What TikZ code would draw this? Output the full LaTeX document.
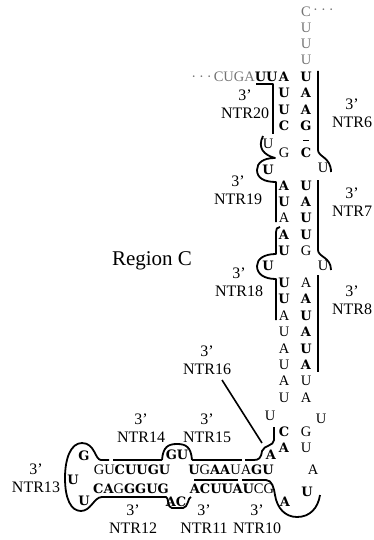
\documentclass[tikz,border=0pt]{standalone}
\usepackage{fontspec}
\setmainfont{Liberation Serif}
\newfontfamily\bntfont{DejaVu Serif}
\newcommand{\B}[1]{{\bntfont\bfseries\fontsize{13}{14}\selectfont #1}}
\begin{document}
\begin{tikzpicture}[x=1pt,y=-1pt,
  nt/.style={inner sep=0pt, font=\fontsize{14.5}{15}\selectfont},
  faint/.style={text=black!55},
  lab/.style={align=center, inner sep=0pt, font=\fontsize{16}{18}\selectfont},
  strand/.style={line width=1.8pt, line join=round},
  pointer/.style={line width=1.6pt}]
\useasboundingbox (0,0) rectangle (374,540);
% single strand at the top
\node[nt,faint] (t0) at (306,12) {C};
\node[nt,faint,anchor=west] (t0d) at (313,12) {·\hspace{3pt}·\hspace{3pt}·};
\node[nt,faint] (t1) at (306,28) {U};
\node[nt,faint] (t2) at (306,44) {U};
\node[nt,faint] (t3) at (306,60) {U};
% stem
\foreach \y/\l/\r [count=\i] in {77/\B{A}/\B{U}, 93/\B{U}/\B{A}, 110/\B{U}/\B{A}, 126/\B{C}/\B{G},
    153/G/\B{C}, 186/\B{A}/\B{U}, 202/\B{U}/\B{A}, 218/A/\B{U}, 235/\B{A}/\B{U}, 251/\B{U}/G,
    283/\B{U}/A, 299/\B{U}/\B{A}, 316/A/\B{U}, 332/U/\B{A}, 349/A/\B{U}, 365/U/\B{A},
    381/A/U, 398/U/A, 432/\B{C}/G, 448/\B{A}/U}
  {\node[nt] (L\i) at (284,\y) {\l}; \node[nt] (R\i) at (306,\y) {\r};}
\node[nt,anchor=east] (five) at ([xshift=-1pt]L1.west) {{\color{black!55}·\hspace{3pt}·\hspace{3pt}·\hspace{2pt}CUGA}\B{UU}};
\draw[line width=0.8pt] (303,140) -- (309,140);
\node[nt] (bu1) at (268,144) {U};
\node[nt] (bu2) at (268,170) {\B{U}};
\node[nt] (bu3) at (323,168) {U};
\node[nt] (bu4) at (268,266) {\B{U}};
\node[nt] (bu5) at (323,266) {U};
\node[nt] (bu6) at (270,416) {U};
\node[nt] (bu7) at (321,419) {U};
% hairpin loop
\node[nt] (la1) at (271,455) {\B{A}};
\node[nt] (la2) at (313,470) {A};
\node[nt] (la3) at (307,492) {\B{U}};
\node[nt] (la4) at (285,502) {\B{A}};
% bottom helix
\node[nt] (h1) at (132,470) {GU\B{CUUGU}};
\node[nt] (h2) at (231,470) {\B{U}G\B{AA}UA\B{GU}};
\node[nt] (h3) at (131,489) {\B{CA}G\B{GGUG}};
\node[nt] (h4) at (232,489) {\B{ACUUAU}CG};
\node[nt] (gu) at (177,455) {\B{GU}};
\node[nt] (ac) at (176,502) {\B{AC}};
\node[nt] (o1) at (84,456) {\B{G}};
\node[nt] (o2) at (73,480) {\B{U}};
\node[nt] (o3) at (84,501) {\B{U}};
% labels
\node[lab] (n20) at (245,104) {3’\\NTR20};
\node[lab] (n19) at (238,190) {3’\\NTR19};
\node[lab] (n18) at (239,282) {3’\\NTR18};
\node[lab] (n6) at (352,113) {3’\\NTR6};
\node[lab] (n7) at (352,202) {3’\\NTR7};
\node[lab] (n8) at (352,300) {3’\\NTR8};
\node[lab] (n16) at (207,360) {3’\\NTR16};
\node[lab] (n15) at (207,428) {3’\\NTR15};
\node[lab] (n14) at (141,428) {3’\\NTR14};
\node[lab] (n13) at (36,478) {3’\\NTR13};
\node[lab] (n12) at (133,519) {3’\\NTR12};
\node[lab] (n11) at (204,519) {3’\\NTR11};
\node[lab] (n10) at (257,519) {3’\\NTR10};
\node[inner sep=0pt, font=\fontsize{21}{23}\selectfont] (reg) at (152,261) {Region C};
% bracket lines
\draw[strand] (256,84) -- (273,84) -- (273,134);
\draw[strand] (263,136) .. controls (257,148) and (264,155) .. (275,158)
  .. controls (263,158) and (257,163) .. (257,170)
  .. controls (257,178) and (264,182) .. (276,182) -- (276,222);
\draw[strand] (280,227) .. controls (277,227) and (276,229) .. (276,232) -- (276,254)
  .. controls (264,254) and (257,259) .. (257,266)
  .. controls (257,274) and (264,279) .. (276,279) -- (276,320);
\draw[strand] (318,71) -- (318,150) .. controls (318,157) and (331,157) .. (331,172);
\draw[strand] (318,180) -- (318,250) .. controls (318,257) and (331,257) .. (331,270);
\draw[strand] (318,275) -- (318,372);
% NTR16 pointer
\coordinate (p16a) at (222,380);
\coordinate (p16b) at (262,443);
\draw[pointer] (p16a) -- (p16b);
\draw[strand] (274,427) -- (274,440) .. controls (274,446) and (264,445) .. (262,451)
  .. controls (261,458) and (259,460) .. (254,460) -- (245,460);
\draw[strand] (242,460) -- (192,460);
\draw[strand] (192,460) .. controls (191,447) and (186,444) .. (177,444)
  .. controls (168,444) and (163,447) .. (162,460);
\draw[strand] (162,460) -- (113,460);
\draw[strand] (109,460) -- (101,460) .. controls (95,460) and (95,443) .. (82,443)
  .. controls (71,443) and (65,458) .. (65,478)
  .. controls (65,499) and (71,511) .. (81,511)
  .. controls (91,511) and (94,497) .. (102,497) -- (166,497)
  .. controls (169,497) and (167,508) .. (172,508) -- (183,508)
  .. controls (188,508) and (188,497) .. (191,497);
\draw[strand] (194,480) -- (238,480);
\draw[strand] (242,480) -- (266,480) .. controls (272,480) and (274,488) .. (275,495)
  .. controls (277,508) and (285,517) .. (297,517)
  .. controls (310,517) and (318,508) .. (320,495);
\end{tikzpicture}
\end{document}
